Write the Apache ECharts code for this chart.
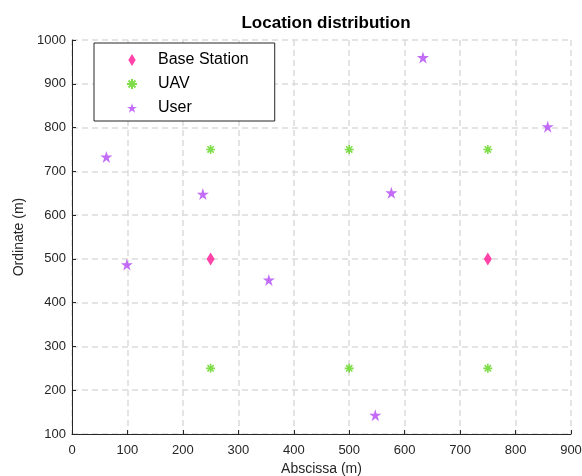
<!DOCTYPE html>
<html><head><meta charset="utf-8">
<script src="https://cdn.jsdelivr.net/npm/echarts@6/dist/echarts.min.js"></script>
<style>html,body{margin:0;padding:0;background:#fff;width:100%;height:100%;overflow:hidden}#c{width:100vw;height:100vh}</style>
</head><body><div id="c"></div>
<script>
const baseStations = [[250,500],[750,500]];
const uavs = [[250,750],[500,750],[750,750],[250,250],[500,250],[750,250]];
const users = [[62,733],[236,648],[99,487],[355,452],[576,651],[633,960],[547,143],[858,802]];
const xTicks = [0,900,100];
const yTicks = [100,1000,100];

const STAR = 'path://M0,-100L22.45,-30.9L95.1,-30.9L36.3,11.8L58.8,80.9L0,38.2L-58.8,80.9L-36.3,11.8L-95.1,-30.9L-22.45,-30.9Z';
const AST = 'path://M0,-100L0,100M-100,0L100,0M-70,-70L70,70M-70,70L70,-70';
const DIA = 'path://M0,-65L40,0L0,65L-40,0Z';
const cBS = '#ff1493', cUAV = '#5fd41b', cUser = '#b347f5';
const font = 'Liberation Sans, Arial, Helvetica, sans-serif';
const chart = echarts.init(document.getElementById('c'));
const axisCommon = {
  axisLine:{show:true,lineStyle:{color:'#262626',width:1}},
  axisTick:{show:true,inside:true,length:4,lineStyle:{color:'#262626'}},
  splitLine:{show:true,lineStyle:{color:'#dcdcdc',width:1.5,type:[6,4]}},
  nameLocation:'middle',
  nameTextStyle:{color:'#262626',fontSize:14,fontFamily:font}
};
chart.setOption({
  animation:false,
  title:{text:'Location distribution',left:321,textAlign:'center',top:10,
    textStyle:{fontSize:17,fontWeight:'bold',color:'#000',fontFamily:font}},
  grid:{left:72,right:11,top:40,bottom:42,containLabel:false,outerBoundsMode:'none'},
  xAxis:Object.assign({},axisCommon,{type:'value',min:xTicks[0],max:xTicks[1],interval:xTicks[2],
    axisLabel:{color:'#262626',fontSize:13,fontFamily:font,margin:10,formatter:v=>String(v)},
    name:'Abscissa (m)',nameGap:26,position:'bottom'}),
  yAxis:Object.assign({},axisCommon,{type:'value',min:yTicks[0],max:yTicks[1],interval:yTicks[2],
    axisLabel:{color:'#262626',fontSize:13,fontFamily:font,margin:6,formatter:v=>String(v)},
    name:'Ordinate (m)',nameGap:46,position:'left'}),
  legend:{orient:'vertical',left:94,top:43,borderColor:'#262626',borderWidth:1,
    backgroundColor:'#fff',padding:[9,26,5,32],itemWidth:10,itemHeight:12,itemGap:8,
    textStyle:{fontSize:16,color:'#000',fontFamily:font,lineHeight:16,padding:[0,0,0,16]},
    data:[{name:'Base Station',icon:DIA},{name:'UAV'},{name:'User'}]},
  series:[
    {name:'Base Station',type:'scatter',data:baseStations,symbol:'diamond',symbolSize:[8,13],
      itemStyle:{color:cBS}},
    {name:'UAV',type:'scatter',data:uavs,symbol:AST,symbolSize:9,
      itemStyle:{color:cUAV,borderColor:cUAV,borderWidth:1.6}},
    {name:'User',type:'scatter',data:users,symbol:STAR,symbolSize:12,
      itemStyle:{color:cUser}}
  ]
});
</script></body></html>
